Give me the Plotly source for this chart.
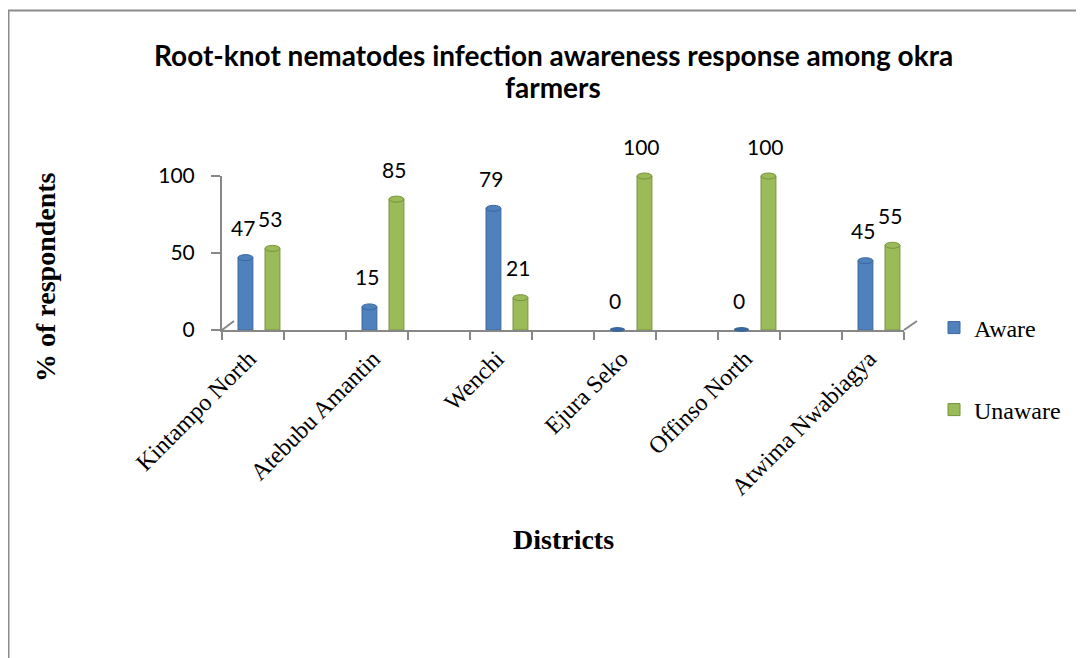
import plotly.graph_objects as go

# ---- data ----
districts = ["Kintampo North", "Atebubu Amantin", "Wenchi", "Ejura Seko",
             "Offinso North", "Atwima Nwabiagya"]
aware = [47, 15, 79, 0, 0, 45]
unaware = [53, 85, 21, 100, 100, 55]
y_ticks = [0, 50, 100]
title_lines = ["Root-knot nematodes infection awareness response among okra", "farmers"]

# ---- layout geometry (screen pixels; page body has an 8px margin) ----
OX, OY = 8, 8
W, H = 1076, 650
L, R, T, B = 222, 904, 176, 330
Y_MAX = 100


def px(x):
    return (x - L) / (R - L)


def py(y):
    return (B - y) / (B - T)


def cx(x):
    return (x - OX) / W


def cy(y):
    return 1 - (y - OY) / H


BLUE, BLUE_D = "#4F81BD", "#3A679E"
GREEN, GREEN_D = "#9BBB59", "#76923C"
GRAY = "#878787"
BW = 0.12          # bar width in category units
OFF_A = -0.169     # left edge of Aware bar
OFF_U = 0.049      # left edge of Unaware bar

fig = go.Figure()
fig.add_bar(x=districts, y=aware, name="Aware", width=BW, offset=OFF_A,
            marker=dict(color=BLUE, line=dict(color=BLUE_D, width=1)),
            legend="legend", hoverinfo="x+y")
fig.add_bar(x=districts, y=unaware, name="Unaware", width=BW, offset=OFF_U,
            marker=dict(color=GREEN, line=dict(color=GREEN_D, width=1)),
            legend="legend2", hoverinfo="x+y")
# invisible trace for the decorative front-axis ticks
fig.add_scatter(x=[None], y=[None], xaxis="x2", showlegend=False, hoverinfo="skip")

num_font = dict(family="Lato, Liberation Sans, sans-serif", size=21, color="#000000")
ann = []
shapes = []
for i, d in enumerate(districts):
    for vals, off, c, cd in ((aware, OFF_A, BLUE, BLUE_D), (unaware, OFF_U, GREEN, GREEN_D)):
        v = vals[i]
        ann.append(dict(x=i + off + BW / 2, y=v, xref="x", yref="y", text=str(v),
                        showarrow=False, xshift=-2.5, yshift=30, yanchor="middle",
                        font=num_font))
        if v == 0:
            # zero-height bar drawn as a flat disc
            shapes.append(dict(type="circle", xref="x", yref="paper", x0=i + off, x1=i + off + BW,
                               ysizemode="pixel", yanchor=0, y0=-2, y1=3,
                               fillcolor=cd, line=dict(width=0)))
        else:
            # rounded cylinder top
            shapes.append(dict(type="circle", xref="x", yref="paper", x0=i + off, x1=i + off + BW,
                               ysizemode="pixel", yanchor=v / Y_MAX, y0=-3, y1=3,
                               fillcolor=c, line=dict(color=cd, width=1), layer="above"))

# 3D floor slants
shapes.append(dict(type="line", xref="paper", yref="paper", x0=px(222), y0=py(330),
                   x1=px(234), y1=py(321), line=dict(color=GRAY, width=2)))
shapes.append(dict(type="line", xref="paper", yref="paper", x0=px(904), y0=py(330),
                   x1=px(917), y1=py(321), line=dict(color=GRAY, width=2)))
# outer frame (top and left edges)
shapes.append(dict(type="line", xref="paper", yref="paper", x0=px(8), y0=py(10.5),
                   x1=px(1084), y1=py(10.5), line=dict(color="#8C8C8C", width=2)))
shapes.append(dict(type="line", xref="paper", yref="paper", x0=px(8.5), y0=py(10),
                   x1=px(8.5), y1=py(660), line=dict(color="#8C8C8C", width=2)))

serif = "Liberation Serif, Times New Roman, serif"
ann.append(dict(xref="paper", yref="paper", x=px(45), y=py(277), text="<b>% of respondents</b>",
                textangle=-90, showarrow=False, xanchor="center", yanchor="middle",
                font=dict(family=serif, size=28, color="#000")))
ann.append(dict(xref="paper", yref="paper", x=px(563), y=py(539), text="<b>Districts</b>",
                showarrow=False, xanchor="center", yanchor="middle",
                font=dict(family=serif, size=28, color="#000")))
title_font = dict(family="Lato, Liberation Sans, sans-serif", size=28, color="#000")
for line, yy in zip(title_lines, (55, 87)):
    ann.append(dict(xref="paper", yref="paper", x=px(553), y=py(yy), text="<b>" + line + "</b>",
                    showarrow=False, xanchor="center", yanchor="middle", font=title_font))

legend_font = dict(family=serif, size=24, color="#000")

fig.update_layout(
    width=W, height=H,
    margin=dict(l=L - OX, r=W + OX - R, t=T - OY, b=H + OY - B, pad=0),
    paper_bgcolor="white", plot_bgcolor="white",
    xaxis=dict(type="category", range=[-0.298, 5.202], showline=False, ticks="",
               showgrid=False, zeroline=False, tickangle=-45, ticklabelstandoff=9,
               ticklabelshift=-10,
               tickfont=dict(family=serif, size=24, color="#000")),
    xaxis2=dict(overlaying="x", range=[0, 11], dtick=1, tick0=0, ticks="outside", ticklen=8,
                tickwidth=2, tickcolor=GRAY, showline=True, linecolor=GRAY, linewidth=2,
                showticklabels=False, showgrid=False, zeroline=False, side="bottom",
                fixedrange=True),
    yaxis=dict(range=[0, Y_MAX], tickvals=y_ticks, ticks="outside", ticklen=9, tickwidth=2,
               tickcolor=GRAY, showline=True, linecolor=GRAY, linewidth=2, showgrid=False,
               zeroline=False, ticklabelstandoff=12, tickfont=num_font),
    legend=dict(xref="container", yref="container", x=cx(934), y=cy(328),
                xanchor="left", yanchor="middle", font=legend_font, bgcolor="rgba(0,0,0,0)"),
    legend2=dict(xref="container", yref="container", x=cx(934), y=cy(410),
                 xanchor="left", yanchor="middle", font=legend_font, bgcolor="rgba(0,0,0,0)"),
    annotations=ann,
    shapes=shapes,
    showlegend=True,
)

fig.write_html("out.html")
